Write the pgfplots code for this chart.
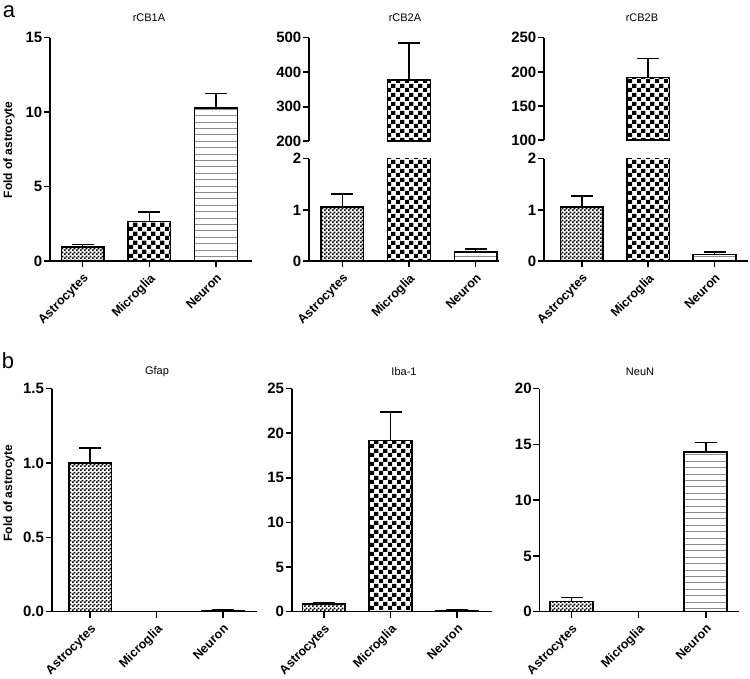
\documentclass[border=0pt]{standalone}
\usepackage{fontspec}
\setmainfont{Liberation Sans}
\usepackage{pgfplots}
\pgfplotsset{compat=1.18}
\usetikzlibrary{patterns}

\pgfdeclarepatternformonly{finechk}{\pgfpointorigin}{\pgfpoint{4pt}{4pt}}{\pgfpoint{4pt}{4pt}}{%
  \pgfpathrectangle{\pgfpointorigin}{\pgfpoint{2pt}{2pt}}%
  \pgfpathrectangle{\pgfpoint{2pt}{2pt}}{\pgfpoint{2pt}{2pt}}%
  \pgfusepath{fill}}
\pgfdeclarepatternformonly{coarsechk}{\pgfpointorigin}{\pgfpoint{8.6pt}{8.6pt}}{\pgfpoint{8.6pt}{8.6pt}}{%
  \pgfpathrectangle{\pgfpointorigin}{\pgfpoint{4.3pt}{4.3pt}}%
  \pgfpathrectangle{\pgfpoint{4.3pt}{4.3pt}}{\pgfpoint{4.3pt}{4.3pt}}%
  \pgfusepath{fill}}
\pgfdeclarepatternformonly{hlines}{\pgfpoint{-0.1pt}{-1pt}}{\pgfpoint{4.1pt}{1pt}}{\pgfpoint{4pt}{6.4pt}}{%
  \pgfsetlinewidth{1pt}%
  \pgfpathmoveto{\pgfpoint{-0.1pt}{0pt}}\pgfpathlineto{\pgfpoint{4.1pt}{0pt}}%
  \pgfusepath{stroke}}

\pgfplotsset{
  base/.style={scale only axis, anchor=south west,
    axis lines=left, axis line style={-, line width=1.6pt, black},
    tick align=outside, major tick length=6pt,
    tick style={line width=1.6pt, black},
    xtick={0,1,2}, xticklabels={Astrocytes,Microglia,Neuron},
    xticklabel shift=4pt,
    xticklabel style={rotate=45, anchor=north east, font=\fontsize{12.5}{12.5}\selectfont\bfseries, inner sep=1pt},
    yticklabel style={font=\fontsize{15}{15}\selectfont\bfseries, inner sep=1.5pt},
  },
  upper/.style={base, axis x line=none, xtick=\empty},
  barcommon/.style={ybar, bar width=0.64, draw=black, line width=1.6pt,
    error bars/y dir=plus, error bars/y explicit,
    error bars/error bar style={line width=1.6pt, black},
    error bars/error mark options={rotate=90, mark size=11pt, line width=1.6pt, black}},
  astro/.style={barcommon, pattern=finechk, pattern color=black},
  micro/.style={barcommon, pattern=coarsechk, pattern color=black},
  microlow/.style={ybar, bar width=0.64, draw=black, line width=1.6pt, pattern=coarsechk, pattern color=black, restrict y to domain*=0:3},
  neuron/.style={barcommon, pattern=hlines, pattern color=black!45},
}

\begin{document}
\begin{tikzpicture}[x=1pt,y=1pt]
\useasboundingbox (0,0) rectangle (750,679);

% ---------- a1: rCB1A ----------
\begin{axis}[base, at={(50pt,418pt)}, width=202pt, height=223.3pt,
  xmin=-0.49, xmax=2.54, ymin=0, ymax=15,
  ytick={0,5,10,15}, yticklabels={0,5,10,15}]
\addplot[astro] coordinates {(0,0.92) +- (0,0.20)};
\addplot[micro] coordinates {(1,2.64) +- (0,0.67)};
\addplot[neuron] coordinates {(2,10.27) +- (0,0.99)};
\end{axis}

% ---------- a2: rCB2A ----------
\begin{axis}[base, at={(309pt,418pt)}, width=190pt, height=102.3pt,
  xmin=-0.5, xmax=2.35, ymin=0, ymax=2,
  ytick={0,1,2}, yticklabels={0,1,2}]
\addplot[astro] coordinates {(0,1.06) +- (0,0.25)};
\addplot[microlow] coordinates {(1,378)};
\addplot[neuron] coordinates {(2,0.17) +- (0,0.06)};
\end{axis}
\begin{axis}[upper, at={(309pt,537.7pt)}, width=190pt, height=103.6pt,
  xmin=-0.5, xmax=2.35, ymin=200, ymax=500,
  ytick={200,300,400,500}, yticklabels={200,300,400,500}]
\addplot[micro] coordinates {(1,378) +- (0,106)};
\end{axis}

% ---------- a3: rCB2B ----------
\begin{axis}[base, at={(544pt,418pt)}, width=203.7pt, height=102.3pt,
  xmin=-0.57, xmax=2.5, ymin=0, ymax=2,
  ytick={0,1,2}, yticklabels={0,1,2}]
\addplot[astro] coordinates {(0,1.06) +- (0,0.21)};
\addplot[microlow] coordinates {(1,192)};
\addplot[neuron] coordinates {(2,0.13) +- (0,0.04)};
\end{axis}
\begin{axis}[upper, at={(544pt,538.7pt)}, width=203.7pt, height=102.6pt,
  xmin=-0.57, xmax=2.5, ymin=100, ymax=250,
  ytick={100,150,200,250}, yticklabels={100,150,200,250}]
\addplot[micro] coordinates {(1,192) +- (0,27.5)};
\end{axis}

% ---------- b1: Gfap ----------
\begin{axis}[base, at={(51.7pt,67.3pt)}, width=205pt, height=223pt,
  xmin=-0.58, xmax=2.51, ymin=0, ymax=1.5,
  ytick={0,0.5,1,1.5}, yticklabels={0.0,0.5,1.0,1.5}]
\addplot[astro] coordinates {(0,1.00) +- (0,0.10)};
\addplot[micro] coordinates {(1,0)};
\addplot[neuron] coordinates {(2,0.006) +- (0,0.004)};
\end{axis}

% ---------- b2: Iba-1 ----------
\begin{axis}[base, at={(291.7pt,67.3pt)}, width=200pt, height=223pt,
  xmin=-0.485, xmax=2.52, ymin=0, ymax=25,
  ytick={0,5,10,15,20,25}, yticklabels={0,5,10,15,20,25}]
\addplot[astro] coordinates {(0,0.83) +- (0,0.22)};
\addplot[micro] coordinates {(1,19.17) +- (0,3.25)};
\addplot[neuron] coordinates {(2,0.08) +- (0,0.08)};
\end{axis}

% ---------- b3: NeuN ----------
\begin{axis}[base, at={(539.3pt,67.3pt)}, width=200pt, height=223pt,
  xmin=-0.48, xmax=2.5, ymin=0, ymax=20,
  ytick={0,5,10,15,20}, yticklabels={0,5,10,15,20}]
\addplot[astro] coordinates {(0,0.90) +- (0,0.36)};
\addplot[micro] coordinates {(1,0)};
\addplot[neuron] coordinates {(2,14.34) +- (0,0.83)};
\end{axis}

% ---------- texts ----------
\node[font=\fontsize{11}{11}\selectfont] at (149,661) {rCB1A};
\node[font=\fontsize{11}{11}\selectfont] at (405,661) {rCB2A};
\node[font=\fontsize{11}{11}\selectfont] at (642,661) {rCB2B};
\node[font=\fontsize{11}{11}\selectfont] at (157,307) {Gfap};
\node[font=\fontsize{11}{11}\selectfont] at (404,307) {Iba-1};
\node[font=\fontsize{11}{11}\selectfont] at (640,307) {NeuN};
\node[font=\fontsize{22}{22}\selectfont] at (9,667) {a};
\node[font=\fontsize{22}{22}\selectfont] at (8,318) {b};
\node[rotate=90, font=\fontsize{12}{12}\selectfont\bfseries] at (9,529) {Fold of astrocyte};
\node[rotate=90, font=\fontsize{12}{12}\selectfont\bfseries] at (9,186) {Fold of astrocyte};
\end{tikzpicture}
\end{document}
